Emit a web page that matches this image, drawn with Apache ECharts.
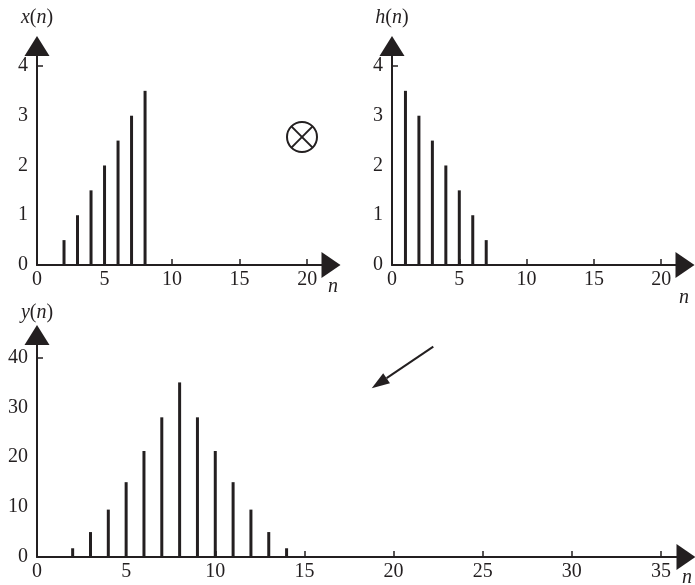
<!DOCTYPE html>
<html>
<head>
<meta charset="utf-8">
<script src="https://cdn.jsdelivr.net/npm/echarts@6/dist/echarts.min.js"></script>
<style>
  html, body { margin: 0; padding: 0; background: #fff; }
  #main { width: 695px; height: 585px; }
</style>
</head>
<body>
<div id="main"></div>
<script>
// sequences
var xN = [2, 3, 4, 5, 6, 7, 8];
var xVals = [0.5, 1, 1.5, 2, 2.5, 3, 3.5];
var hN = [1, 2, 3, 4, 5, 6, 7];
var hVals = [3.5, 3, 2.5, 2, 1.5, 1, 0.5];
var yN = [2, 3, 4, 5, 6, 7, 8, 9, 10, 11, 12, 13, 14];
var yVals = [1.75, 5, 9.5, 15, 21.25, 28, 35, 28, 21.25, 15, 9.5, 5, 1.75];

var topXTicks = [0, 5, 10, 15, 20];
var topYTicks = [0, 1, 2, 3, 4];
var botXTicks = [0, 5, 10, 15, 20, 25, 30, 35];
var botYTicks = [0, 10, 20, 30, 40];

var ink = '#231f20';
var serif = '"Liberation Serif", "DejaVu Serif", serif';

function pairs(ns, vs) {
  return ns.map(function (n, i) { return [n, vs[i]]; });
}

function xAxisOf(grid, max, ticks) {
  return {
    type: 'value', gridIndex: grid, min: 0, max: max,
    splitLine: { show: false },
    axisLine: {
      lineStyle: { color: ink, width: 2 },
      symbol: ['none', 'triangle'], symbolSize: [26, 19], symbolOffset: [0, 9]
    },
    axisTick: { inside: true, length: 6, lineStyle: { color: ink, width: 1.5 },
      customValues: ticks.slice(1) },
    axisLabel: { customValues: ticks, color: ink, fontFamily: serif, fontSize: 20, margin: 5 }
  };
}

function yAxisOf(grid, max, ticks, name, gap) {
  return {
    type: 'value', gridIndex: grid, min: 0, max: max,
    splitLine: { show: false },
    name: name, nameLocation: 'end', nameGap: gap,
    nameTextStyle: {
      color: ink, fontFamily: serif, fontSize: 20, align: 'center',
      rich: { i: { fontStyle: 'italic', fontFamily: serif, fontSize: 20, color: ink } }
    },
    axisLine: {
      lineStyle: { color: ink, width: 2 },
      symbol: ['none', 'triangle'], symbolSize: [25, 20], symbolOffset: [0, 10]
    },
    axisTick: { inside: true, length: 6, lineStyle: { color: ink, width: 1.5 },
      customValues: [ticks[ticks.length - 1]] },
    axisLabel: { customValues: ticks, color: ink, fontFamily: serif, fontSize: 20, margin: 9 }
  };
}

function stems(grid, data) {
  return {
    type: 'bar', xAxisIndex: grid, yAxisIndex: grid,
    data: data, barWidth: 3, silent: true,
    itemStyle: { color: ink }
  };
}

function nLabel(x, y) {
  return {
    type: 'text', x: x, y: y, silent: true,
    style: { text: 'n', fontFamily: serif, fontStyle: 'italic', fontSize: 20, fill: ink,
      align: 'center', verticalAlign: 'middle' }
  };
}

var chart = echarts.init(document.getElementById('main'));
chart.setOption({
  animation: false,
  grid: [
    { left: 37, top: 56, width: 285, height: 209 },
    { left: 392, top: 56, width: 284, height: 209 },
    { left: 37, top: 345, width: 640, height: 212 }
  ],
  xAxis: [
    xAxisOf(0, 21.1, topXTicks),
    xAxisOf(1, 21.1, topXTicks),
    xAxisOf(2, 35.9, botXTicks)
  ],
  yAxis: [
    yAxisOf(0, 4.2, topYTicks, '{i|x}({i|n})', 28),
    yAxisOf(1, 4.2, topYTicks, '{i|h}({i|n})', 28),
    yAxisOf(2, 42.5, botYTicks, '{i|y}({i|n})', 22)
  ],
  series: [
    stems(0, pairs(xN, xVals)),
    stems(1, pairs(hN, hVals)),
    stems(2, pairs(yN, yVals))
  ],
  graphic: [
    nLabel(333, 287),
    nLabel(684, 298),
    nLabel(687, 578),
    // convolution sign
    { type: 'circle', shape: { cx: 302, cy: 137, r: 15 }, silent: true,
      style: { fill: 'none', stroke: ink, lineWidth: 2 } },
    { type: 'line', shape: { x1: 291.4, y1: 126.4, x2: 312.6, y2: 147.6 }, silent: true,
      style: { stroke: ink, lineWidth: 2 } },
    { type: 'line', shape: { x1: 312.6, y1: 126.4, x2: 291.4, y2: 147.6 }, silent: true,
      style: { stroke: ink, lineWidth: 2 } },
    // arrow pointing to the result
    { type: 'line', shape: { x1: 433.3, y1: 346.7, x2: 386.6, y2: 378.2 }, silent: true,
      style: { stroke: ink, lineWidth: 2 } },
    { type: 'polygon', shape: { points: [[371.7, 388.3], [390.0, 383.2], [383.2, 373.2]] },
      silent: true, style: { fill: ink } }
  ]
});
</script>
</body>
</html>
